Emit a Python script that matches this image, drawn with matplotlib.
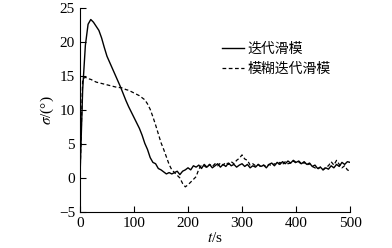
import matplotlib.pyplot as plt
import numpy as np

plt.rcParams['font.family'] = ['Liberation Serif', 'Noto Sans CJK SC']
plt.rcParams['mathtext.fontset'] = 'stix'

# time axis, one sample every 5 s
t = np.arange(0, 505, 5)

# iterative sliding mode (solid)
sigma_ism = [0, 13, 19.5, 22.6, 23.3, 22.9, 22.3, 21.7, 20.6, 19.2,
             17.9, 17.0, 16.1, 15.2, 14.3, 13.4, 12.4, 11.4, 10.5, 9.7,
             8.9, 8.1, 7.3, 6.3, 5.1, 4.2, 3.0, 2.3, 2.1, 1.4,
             1.2, 0.9, 0.6, 0.8, 0.6, 0.8, 1.0, 0.5, 1.0, 1.2,
             1.5, 1.2, 1.8, 1.6, 1.9, 1.4, 2.0, 1.6,
             2.0, 1.5, 1.8, 2.1, 1.6, 2.0, 1.7, 2.2, 1.8, 2.0,
             1.6, 1.9, 2.1, 1.7, 2.0, 1.5, 1.8, 1.6, 2.0, 1.7,
             1.9, 1.5, 2.0, 2.2, 1.8, 2.3, 2.0, 2.4, 2.1, 2.5,
             2.2, 2.6, 2.3, 2.5, 2.1, 2.4, 2.0, 2.2, 1.7, 1.9,
             1.4, 1.6, 1.2, 1.5, 1.3, 1.8, 1.5, 2.0, 1.7, 2.3,
             2.0, 2.4, 2.3]

# fuzzy iterative sliding mode (dashed)
sigma_fism = [0, 14.6, 14.8, 14.6, 14.5, 14.3, 14.1, 14.0, 13.9, 13.8,
              13.7, 13.6, 13.5, 13.4, 13.3, 13.3, 13.2, 13.0, 12.9, 12.7,
              12.5, 12.3, 12.1, 11.8, 11.5, 10.9, 10.1, 9.0, 7.8, 6.5,
              5.2, 4.2, 3.1, 2.0, 1.2, 0.8, 0.4, 0.0, -0.8, -1.3,
              -1.0, -0.6, -0.2, 0.2, 1.3, 1.9, 1.8, 1.5,
              2.0, 1.7, 2.1, 1.8, 2.2, 1.9, 2.3, 2.0, 2.4, 2.1,
              2.6, 2.9, 3.4, 2.8, 2.6, 1.9, 2.1, 1.8, 2.0, 1.6,
              1.9, 1.7, 2.0, 1.8, 2.1, 1.9, 2.3, 2.0, 2.4, 2.1,
              2.2, 2.5, 2.2, 2.4, 2.0, 2.3, 1.9, 2.1, 1.7, 1.5,
              1.3, 1.6, 1.2, 1.6, 1.8, 2.4, 1.9, 2.6, 2.0, 1.5,
              1.8, 1.2, 1.0]

labels = ['迭代滑模', '模糊迭代滑模']

fig = plt.figure(figsize=(3.92, 2.48), dpi=100)
ax = fig.add_axes([0.204, 0.145, 0.689, 0.823])

ax.plot(t, sigma_ism, color='black', lw=1.0, label=labels[0])
ax.plot(t, sigma_fism, color='black', lw=0.9, ls=(0, (3, 2)), label=labels[1])

ax.set_xlim(0, 500)
ax.set_ylim(-5, 25)
ax.set_xticks([0, 100, 200, 300, 400, 500])
ax.set_yticks([-5, 0, 5, 10, 15, 20, 25])
ax.spines['top'].set_visible(False)
ax.spines['right'].set_visible(False)
ax.tick_params(direction='in', length=4, labelsize=11, width=0.8)
ax.set_xlabel('$t$/s', fontsize=11, labelpad=1)
ax.set_ylabel(r'$\sigma$/(°)', fontsize=11, labelpad=2)

ax.legend(loc='upper left', bbox_to_anchor=(0.48, 0.895), frameon=False,
          handlelength=1.6, handletextpad=0.2, labelspacing=0.45,
          prop={'family': ['Noto Sans CJK SC'], 'size': 10})

fig.savefig('out.png', dpi=100)
